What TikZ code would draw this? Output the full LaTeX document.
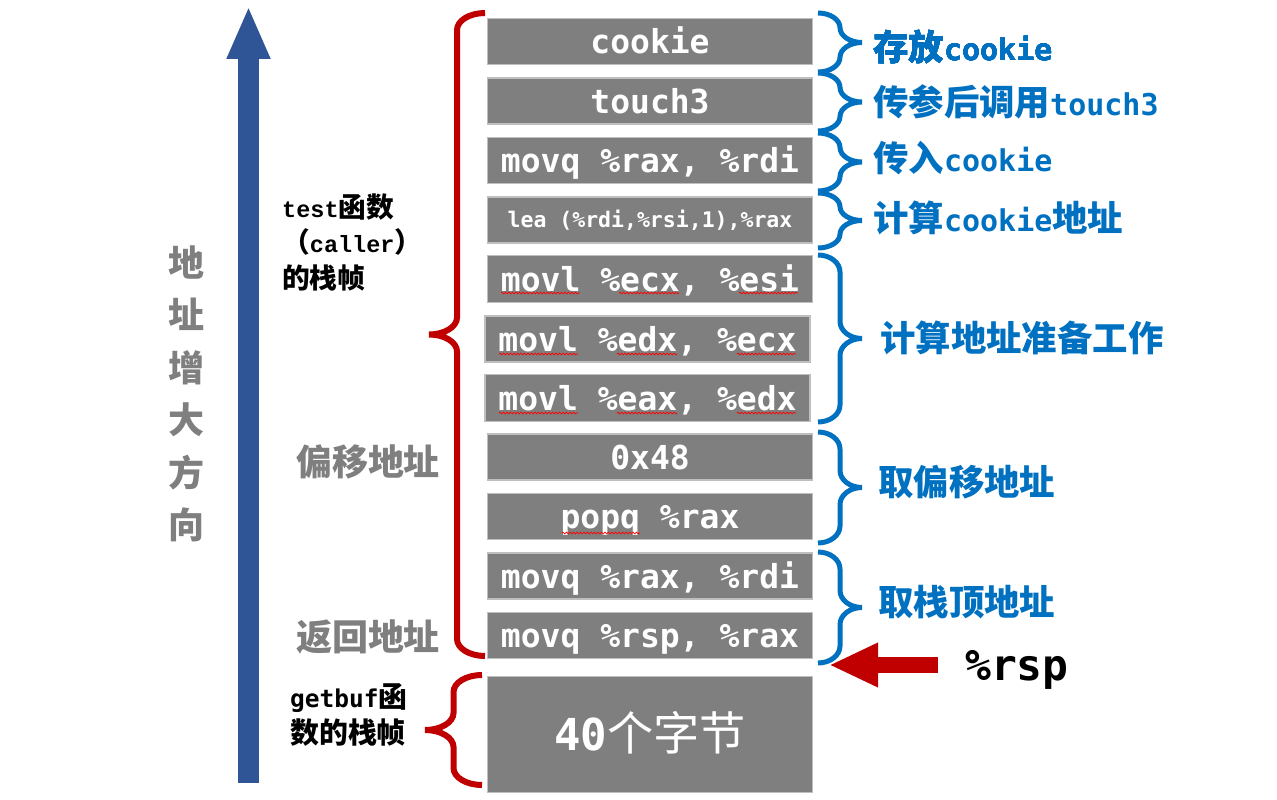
\documentclass[tikz,border=0pt]{standalone}
\usepackage{fontspec}
\usetikzlibrary{arrows.meta,decorations.pathmorphing}
\newfontfamily\zhfont{Noto Sans CJK SC}[Scale=1.18]
\newfontfamily\zhbig{Noto Sans CJK SC}[Scale=1.05]
\newfontfamily\monofont{DejaVu Sans Mono}
\newfontfamily\courfont{Liberation Mono}
\newcommand{\zh}[1]{{\zhfont #1}}
\definecolor{cellgray}{HTML}{7F7F7F}
\definecolor{cellline}{HTML}{BFBFBF}
\definecolor{framered}{HTML}{C00000}
\definecolor{noteblue}{HTML}{0070C0}
\definecolor{upblue}{HTML}{2F5597}
\definecolor{labelgray}{HTML}{7F7F7F}
\tikzset{
        cell/.style={draw=cellline, line width=1.5pt, fill=cellgray, text=white,
                font=\monofont\bfseries\fontsize{33}{33}\selectfont,
                minimum width=325pt, minimum height=46pt, inner sep=0pt,
                text height=24pt, text depth=0pt},
        note/.style={text=noteblue, anchor=base west, inner sep=0pt,
                font=\monofont\bfseries\fontsize{30}{30}\selectfont},
        graylabel/.style={text=labelgray, inner sep=0pt, align=center,
                font=\zhfont\bfseries\fontsize{30.5}{52.5}\selectfont},
        framelabel/.style={anchor=west, inner sep=0pt, align=left},
        framebrace/.style={draw=framered, line width=6pt},
        notebrace/.style={draw=noteblue, line width=5pt},
        squiggle/.style={draw=red, line width=0.7pt, decorate,
                decoration={snake, amplitude=0.9pt, segment length=3.5pt}},
        uparrow/.style={draw=upblue, line width=21pt, -{Triangle[length=53pt, width=40pt]}},
        rsparrow/.style={draw=framered, line width=16pt, -{Triangle[length=49pt, width=41pt]}}
}
\newcommand{\curly}[5]{%
        \pgfmathsetmacro{\brX}{#2}%
        \pgfmathsetmacro{\brT}{#3}%
        \pgfmathsetmacro{\brB}{#4}%
        \pgfmathsetmacro{\brH}{(#5)/2}%
        \pgfmathsetmacro{\brR}{min(17,(\brB-\brT)/4)}%
        \pgfmathsetmacro{\brM}{(\brT+\brB)/2}%
        \pgfmathsetmacro{\brS}{\brX+\brH}%
        \pgfmathsetmacro{\brP}{\brX+2*\brH}%
        \draw[#1] (\brX,\brT) .. controls ({\brX+0.552*(\brH)},\brT) and (\brS,{\brT+0.448*\brR}) .. (\brS,{\brT+\brR})
                -- (\brS,{\brM-\brR}) .. controls (\brS,{\brM-0.448*\brR}) and ({\brS+0.448*(\brH)},\brM) .. (\brP,\brM)
                .. controls ({\brS+0.448*(\brH)},\brM) and (\brS,{\brM+0.448*\brR}) .. (\brS,{\brM+\brR})
                -- (\brS,{\brB-\brR}) .. controls (\brS,{\brB-0.448*\brR}) and ({\brX+0.552*(\brH)},\brB) .. (\brX,\brB);
}
\begin{document}
\begin{tikzpicture}[x=1pt,y=-1pt]
        \useasboundingbox (0,0) rectangle (1277,800);
        \coordinate (low) at (248.5,783);
        \coordinate (high) at (248.5,6);
        \draw[uparrow] (low) -- (high);
        \node (grow) [graylabel] at (186,394) {地\\址\\增\\大\\方\\向};
        \node (cookie) [cell] at (650,41.5) {cookie};
        \node (touch) [cell] at (650,101) {touch3};
        \node (pass) [cell] at (650,160.5) {movq \%rax, \%rdi};
        \node (lea) [cell, font=\monofont\bfseries\fontsize{21.5}{21.5}\selectfont, text height=15.7pt] at (650,220) {lea (\%rdi,\%rsi,1),\%rax};
        \node (esi) [cell, minimum height=47pt] at (650,279) {movl \%ecx, \%esi};
        \node (ecx) [cell] at (647.5,339) {movl \%edx, \%ecx};
        \node (edx) [cell, minimum height=47pt] at (647.5,398) {movl \%eax, \%edx};
        \node (offset) [cell] at (650,457) {0x48};
        \node (pop) [cell] at (650,516.5) {popq \%rax};
        \node (rdi) [cell] at (650,576) {movq \%rax, \%rdi};
        \node (ret) [cell] at (650,635.5) {movq \%rsp, \%rax};
        \node (buf) [cell, minimum height=116pt, font=\monofont\bfseries\fontsize{44}{44}\selectfont, text height=32pt] at (650,734.5) {40{\zhbig\mdseries 个字节}};
        \foreach \yy/\dx in {293/0, 354/-2, 413/-2}
                \foreach \sx/\ex in {501/580, 619/679, 739/798}
                        \draw[squiggle] ({\sx+(\dx)},\yy) -- ({\ex+(\dx)},\yy);
        \draw[squiggle] (562,533) -- (640,533);
        \node (frame) [framelabel, font=\courfont\bfseries\fontsize{23.5}{35.5}\selectfont] at (282,242) {test\zh{函数}\\\zh{（}caller\zh{）}\\\zh{的栈帧}};
        \node (offlabel) [graylabel] at (368,462) {偏移地址};
        \node (retlabel) [graylabel] at (368,637) {返回地址};
        \node (bufframe) [framelabel, font=\monofont\bfseries\fontsize{24.5}{36}\selectfont] at (290,715) {getbuf\zh{函}\\\zh{数的栈帧}};
        \curly{framebrace}{485}{13}{656}{-56}
        \curly{framebrace}{482}{675}{785}{-57}
        \foreach \ta/\tb in {13/72, 73/131, 133/191, 193/248, 255/422, 432/543, 552/663}
                \curly{notebrace}{818}{\ta}{\tb}{44}
        \node (n1) [note] at (873,60) {\zh{存放}cookie};
        \node (n2) [note] at (873,115) {\zh{传参后调用}touch3};
        \node (n3) [note] at (873,171) {\zh{传入}cookie};
        \node (n4) [note] at (873,231) {\zh{计算}cookie\zh{地址}};
        \node (n5) [note] at (880,351) {\zh{计算地址准备工作}};
        \node (n6) [note] at (878,495) {\zh{取偏移地址}};
        \node (n7) [note] at (878,615) {\zh{取栈顶地址}};
        \node (rspname) [font=\monofont\bfseries\fontsize{43}{43}\selectfont, inner sep=0pt, anchor=west, text depth=0pt] at (965,665) {\%rsp};
        \coordinate (stacktop) at (829,665);
        \draw[rsparrow] ([xshift=-27pt]rspname.west) -- (stacktop);
\end{tikzpicture}
\end{document}
